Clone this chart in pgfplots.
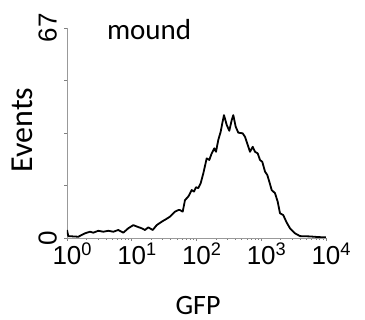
\documentclass[border=0pt]{standalone}
\usepackage{fontspec}
\setmainfont{Liberation Sans}
\newfontfamily\calibri{Carlito}
\usepackage{pgfplots}
\pgfplotsset{compat=1.18}
\pgfplotstableread{
x y
1.0 2.55
1.047 0.6
1.495 0.4
1.897 1.5
2.266 2.0
2.548 1.7
3.044 2.3
3.636 2.0
4.343 2.3
5.189 2.0
6.199 2.55
7.405 1.7
8.845 3.1
10.57 4.1
12.18 3.6
14.25 3.1
16.02 2.55
18.01 3.4
21.07 2.55
24.29 4.1
29.01 5.2
33.81 6.0
38.97 6.8
46.56 8.4
52.36 8.9
55.62 8.9
61.23 8.4
66.45 12.1
74.71 13.2
84.34 15.3
91.49 14.8
98.24 16.2
106.6 15.9
116.1 17.5
127.4 20.6
143.7 25.4
157.6 24.9
171.7 27.0
188.4 28.6
200.1 27.5
217.1 31.3
236.4 33.9
250.3 36.6
265.9 39.2
292.7 36.1
321.1 34.2
349.7 37.6
370.2 39.2
403.1 35.5
442.2 33.6
517.0 33.4
561.0 32.3
617.6 29.7
670.4 27.5
738.0 29.1
801.0 27.5
881.6 27.0
956.5 24.9
1038 24.3
1143 21.2
1240 20.1
1331 18.0
1450 15.3
1631 14.3
1795 11.6
1948 7.9
2190 7.3
2473 4.9
2780 3.1
3321 1.5
3967 0.6
5661 0.5
7521 0.3
10000 0.2
}\gfpdata
\begin{document}
\begin{tikzpicture}
\useasboundingbox (-67pt,-82pt) rectangle (298pt,238pt);
\begin{axis}[
  at={(0pt,0pt)}, anchor=south west,
  scale only axis, width=259pt, height=210pt,
  xmode=log, xmin=1, xmax=10000, ymin=0, ymax=67,
  axis x line*=bottom, axis y line*=left,
  axis line style={-, draw=gray!80, line width=0.8pt},
  xtick={1,10,100,1000,10000},
  xticklabels={10\rlap{\textsuperscript{0}},10\rlap{\textsuperscript{1}},10\rlap{\textsuperscript{2}},10\rlap{\textsuperscript{3}},10\rlap{\textsuperscript{4}}},
  minor xtick={2,3,4,5,6,7,8,9,20,30,40,50,60,70,80,90,200,300,400,500,600,700,800,900,2000,3000,4000,5000,6000,7000,8000,9000},
  xticklabel style={font=\fontsize{26}{26}\selectfont, anchor=base, yshift=-24pt},
  ytick={0,16.75,33.5,50.25,67}, yticklabels={0,,,,67},
  yticklabel style={rotate=90, anchor=south, inner sep=7pt, font=\fontsize{26}{26}\selectfont},
  tick align=outside, major tick length=3pt, minor tick length=2pt,
  tick style={gray, line width=0.6pt},
  title={mound},
  title style={at={(rel axis cs:0.317,0.943)}, anchor=base, yshift=-6pt, inner sep=0pt, font=\calibri\fontsize{29}{29}\selectfont},
  xlabel={GFP},
  xlabel style={at={(rel axis cs:0.506,-0.362)}, anchor=base, inner sep=0pt, font=\calibri\fontsize{28}{28}\selectfont},
  ylabel={Events},
  ylabel style={at={(rel axis cs:-0.1351,0.514)}, anchor=base, inner sep=0pt, font=\calibri\fontsize{32}{32}\selectfont},
]
\addplot[black, line width=1.8pt, line join=round] table[x=x, y=y] {\gfpdata};
\end{axis}
\end{tikzpicture}
\end{document}
